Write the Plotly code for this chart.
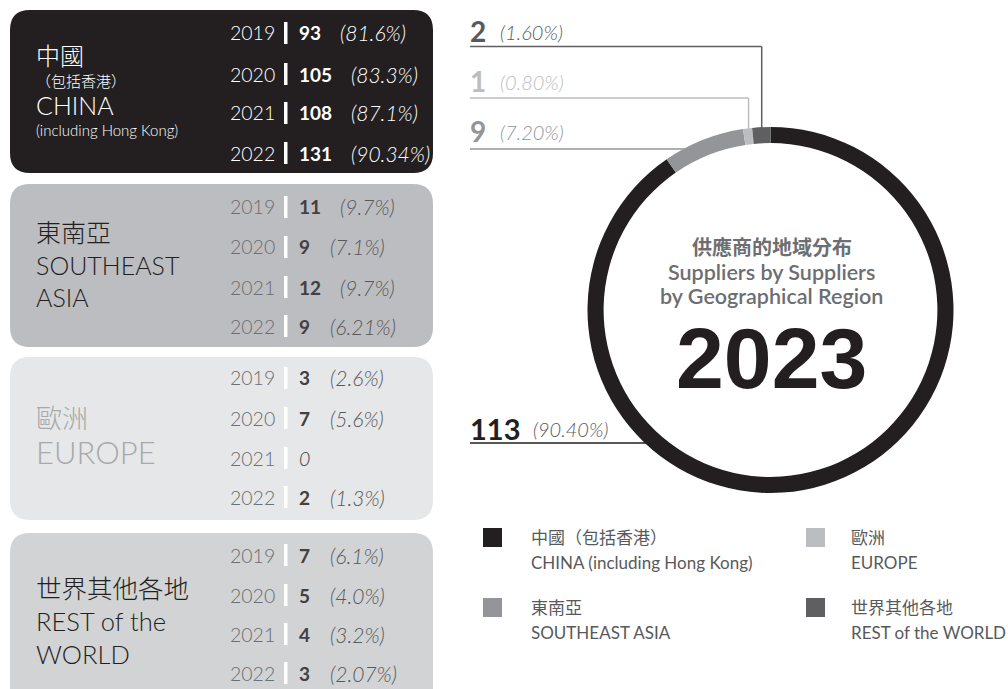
import math
import plotly.graph_objects as go

W, H = 1008, 689

# ---------------- data ----------------
years = ["2019", "2020", "2021", "2022"]
china_counts = [93, 105, 108, 131]
china_pct = ["81.6%", "83.3%", "87.1%", "90.34%"]
sea_counts = [11, 9, 12, 9]
sea_pct = ["9.7%", "7.1%", "9.7%", "6.21%"]
eu_counts = [3, 7, 0, 2]
eu_pct = ["2.6%", "5.6%", None, "1.3%"]
row_counts = [7, 5, 4, 3]
row_pct = ["6.1%", "4.0%", "3.2%", "2.07%"]

regions_2023 = ["中國（包括香港）", "東南亞", "歐洲", "世界其他各地"]
regions_2023_en = ["CHINA (including Hong Kong)", "SOUTHEAST ASIA", "EUROPE", "REST of the WORLD"]
counts_2023 = [113, 9, 1, 2]
pct_2023 = ["90.40%", "7.20%", "0.80%", "1.60%"]

COLORS = ["#231f20", "#939598", "#bcbdc0", "#5f5f62"]

LAT = "Lato, 'Noto Sans CJK TC', sans-serif"


def px(x):
    return x / W


def py(y):
    return 1 - y / H


annotations = []
shapes = []


def ann(x, y, text, size, color, weight=300, family=LAT, xanchor="left", yanchor="middle", align="left"):
    annotations.append(dict(
        x=px(x), y=py(y), xref="paper", yref="paper", text=text, showarrow=False,
        xanchor=xanchor, yanchor=yanchor, borderpad=0, align=align,
        font=dict(size=size, color=color, family=family, weight=weight),
    ))


def rrect(x0, y0, x1, y1, r, color):
    pts = [
        ("M", [(x0 + r, y0)]), ("L", [(x1 - r, y0)]), ("Q", [(x1, y0), (x1, y0 + r)]),
        ("L", [(x1, y1 - r)]), ("Q", [(x1, y1), (x1 - r, y1)]), ("L", [(x0 + r, y1)]),
        ("Q", [(x0, y1), (x0, y1 - r)]), ("L", [(x0, y0 + r)]), ("Q", [(x0, y0), (x0 + r, y0)]),
    ]
    path = ""
    for cmd, ps in pts:
        path += cmd + " " + " ".join(f"{px(a):.5f},{py(b):.5f}" for a, b in ps) + " "
    path += "Z"
    shapes.append(dict(type="path", path=path, xref="paper", yref="paper",
                       fillcolor=color, line=dict(width=0), layer="below"))


def line(x0, y0, x1, y1, color, width=1.5):
    shapes.append(dict(type="line", x0=px(x0), y0=py(y0), x1=px(x1), y1=py(y1),
                       xref="paper", yref="paper", line=dict(color=color, width=width), layer="below"))


def rect(x0, y0, x1, y1, color):
    shapes.append(dict(type="rect", x0=px(x0), y0=py(y0), x1=px(x1), y1=py(y1),
                       xref="paper", yref="paper", fillcolor=color, line=dict(width=0), layer="below"))


# ---------------- left boxes ----------------
boxes = [
    dict(top=10, bottom=173, fill="#231f20",
         label=[("中國", 24, 56), ("（包括香港）", 15, 81), ("CHINA", 25, 105), ("(including Hong Kong)", 15, 130)],
         lab_color="#ffffff", year_color="#ffffff", val_color="#ffffff", pct_color="#ffffff",
         rows=[33, 74, 113, 153], counts=china_counts, pct=china_pct),
    dict(top=184, bottom=347, fill="#bcbdc0",
         label=[("東南亞<br>SOUTHEAST<br>ASIA", 25, 264)],
         lab_color="#231f20", year_color="#6d6e71", val_color="#414042", pct_color="#58595b",
         rows=[207, 247, 287, 326], counts=sea_counts, pct=sea_pct),
    dict(top=357, bottom=520, fill="#e6e7e8",
         label=[("歐洲", 26, 418), ("EUROPE", 31, 452)],
         lab_color="#a7a9ac", year_color="#6d6e71", val_color="#414042", pct_color="#58595b",
         rows=[378, 418, 458, 497], counts=eu_counts, pct=eu_pct),
    dict(top=533, bottom=710, fill="#d1d3d4",
         label=[("世界其他各地<br>REST of the<br>WORLD", 25.5, 621)],
         lab_color="#231f20", year_color="#6d6e71", val_color="#414042", pct_color="#58595b",
         rows=[555, 595, 634, 673], counts=row_counts, pct=row_pct),
]

for b in boxes:
    rrect(10, b["top"], 433, b["bottom"], 20, b["fill"])
    for txt, size, yy in b["label"]:
        ann(35, yy, txt, size, b["lab_color"])
    for yr, yy, c, p in zip(years, b["rows"], b["counts"], b["pct"]):
        ann(229, yy, yr, 19.5, b["year_color"], weight=300)
        rect(284, yy - 11, 287.5, yy + 11, "#ffffff")
        if p is None:
            ann(298, yy, f"<i>{c}</i>", 19.5, b["val_color"], weight=300)
        else:
            ann(298, yy, f"<b>{c}</b>", 19, b["val_color"], weight=700)
            ann(300 + 10.5 * len(str(c)) + 18, yy, f"<i>({p})</i>", 21, b["pct_color"], weight=300)

# ---------------- donut ----------------
CX, CY, R = 770.5, 310, 183
fig = go.Figure()
fig.add_trace(go.Pie(
    labels=regions_2023, values=counts_2023, sort=False, direction="clockwise", rotation=0,
    hole=0.912, textinfo="none", hoverinfo="label+value+percent",
    marker=dict(colors=COLORS, line=dict(width=0)), showlegend=False,
    domain=dict(x=[px(CX - R), px(CX + R)], y=[py(CY + R), py(CY - R)]),
))

# slice geometry from data (clockwise from 12 o'clock)
total = sum(counts_2023)
cum = 0
mid_angles = []
for c in counts_2023:
    mid_angles.append(360 * (cum + c / 2) / total)
    cum += c

Rmid = R - 8
label_specs = [  # (index, y of label line, y of text)
    (3, 46.5, 31),
    (2, 98, 81),
    (1, 149, 131),
    (0, 443, 428),
]
for idx, ly, ty in label_specs:
    col = COLORS[idx]
    tcol = "#58595b" if idx == 3 else col
    nsize = 29 if idx == 0 else 28
    ann(469, ty, f"<b>{counts_2023[idx]}</b>", nsize, tcol, weight=700)
    num_w = 16.5 * len(str(counts_2023[idx])) + 12
    ann(470 + num_w, ty + 1, f"<i>({pct_2023[idx]})</i>", 20, "#58595b" if idx in (0, 3) else col, weight=300)
    ang = math.radians(mid_angles[idx])
    if idx in (2, 3):
        xv = CX + Rmid * math.sin(ang)
        yv = CY - Rmid * math.cos(ang)
        line(470, ly, xv, ly, col)
        line(xv, ly, xv, yv, col)
    else:
        dy = CY - ly
        xe = CX - math.sqrt(max(Rmid ** 2 - dy ** 2, 0))
        line(470, ly, xe, ly, col)

# center text
ann(CX + 1, 247, "<b>供應商的地域分布</b>", 20, "#6d6e71", weight=700, xanchor="center")
ann(CX + 1, 272, "Suppliers by Suppliers", 21.5, "#6d6e71", weight=600, xanchor="center")
ann(CX + 1, 296, "by Geographical Region", 21.5, "#6d6e71", weight=600, xanchor="center")
ann(CX + 1, 358, "<b>2023</b>", 86, "#231f20", weight=700, family="'Liberation Sans', Arial, sans-serif",
    xanchor="center")

# ---------------- legend ----------------
leg_pos = [(483, 528, 47), (483, 598, 47), (806, 528, 44), (806, 598, 44)]
for i, (lx, ly, off) in enumerate(leg_pos):
    rect(lx, ly, lx + 19, ly + 19, COLORS[i])
    ann(lx + off, ly + 9, regions_2023[i], 17, "#58595b", weight=400)
    ann(lx + off, ly + 34, regions_2023_en[i], 17, "#58595b", weight=400)

fig.update_layout(
    width=W, height=H, margin=dict(l=0, r=0, t=0, b=0),
    paper_bgcolor="#ffffff", plot_bgcolor="rgba(0,0,0,0)",
    shapes=shapes, annotations=annotations, showlegend=False,
)

fig.write_html("out.html", config={"displayModeBar": False},
               post_script="document.body.style.margin='0';")
